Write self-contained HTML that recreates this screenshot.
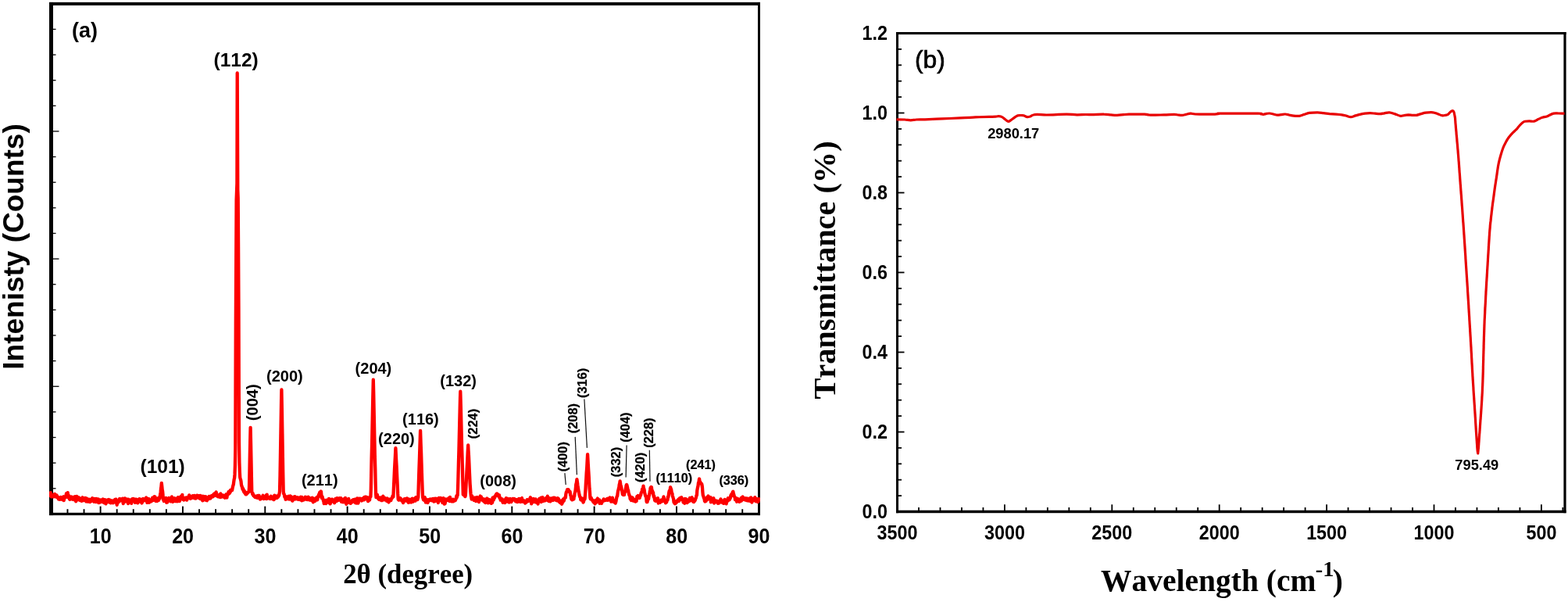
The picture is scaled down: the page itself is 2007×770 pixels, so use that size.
<!DOCTYPE html>
<html lang="en"><head><meta charset="utf-8"><title>XRD pattern and FTIR spectrum</title>
<style>
html,body{margin:0;padding:0;background:#fff;}
body{width:2007px;height:770px;overflow:hidden;}
svg{display:block;}
text{font-family:"Liberation Sans",sans-serif;fill:#000;font-kerning:none;}
.b{font-weight:bold;}
.ser{font-family:"Liberation Serif",serif;font-weight:bold;}
.tk{stroke:#000;stroke-width:1.3;fill:none;}
.tk2{stroke:#000;stroke-width:1.8;fill:none;}
</style></head><body>
<svg width="2007" height="770" viewBox="0 0 2007 770" role="img" aria-label="(a) XRD pattern, intensity versus 2 theta; (b) FTIR spectrum, transmittance versus wavelength">
<rect x="0" y="0" width="2007" height="770" fill="#fff"/>
<g class="tk">
<line x1="67.5" y1="624.77" x2="71.5" y2="624.77"/>
<line x1="67.5" y1="592.14" x2="71.5" y2="592.14"/>
<line x1="67.5" y1="559.51" x2="71.5" y2="559.51"/>
<line x1="67.5" y1="526.88" x2="71.5" y2="526.88"/>
<line x1="67.5" y1="494.25" x2="75.5" y2="494.25"/>
<line x1="67.5" y1="461.62" x2="71.5" y2="461.62"/>
<line x1="67.5" y1="428.99" x2="71.5" y2="428.99"/>
<line x1="67.5" y1="396.36" x2="71.5" y2="396.36"/>
<line x1="67.5" y1="363.73" x2="71.5" y2="363.73"/>
<line x1="67.5" y1="331.10" x2="75.5" y2="331.10"/>
<line x1="67.5" y1="298.47" x2="71.5" y2="298.47"/>
<line x1="67.5" y1="265.84" x2="71.5" y2="265.84"/>
<line x1="67.5" y1="233.21" x2="71.5" y2="233.21"/>
<line x1="67.5" y1="200.58" x2="71.5" y2="200.58"/>
<line x1="67.5" y1="167.95" x2="75.5" y2="167.95"/>
<line x1="67.5" y1="135.32" x2="71.5" y2="135.32"/>
<line x1="67.5" y1="102.69" x2="71.5" y2="102.69"/>
<line x1="67.5" y1="70.06" x2="71.5" y2="70.06"/>
<line x1="67.5" y1="37.43" x2="71.5" y2="37.43"/>
</g><g class="tk" style="stroke-width:1.9">
<line x1="86.46" y1="656.3" x2="86.46" y2="651.20"/>
<line x1="107.53" y1="656.3" x2="107.53" y2="651.20"/>
<line x1="128.60" y1="656.3" x2="128.60" y2="647.60"/>
<line x1="149.67" y1="656.3" x2="149.67" y2="651.20"/>
<line x1="170.74" y1="656.3" x2="170.74" y2="651.20"/>
<line x1="191.80" y1="656.3" x2="191.80" y2="651.20"/>
<line x1="212.87" y1="656.3" x2="212.87" y2="651.20"/>
<line x1="233.94" y1="656.3" x2="233.94" y2="647.60"/>
<line x1="255.01" y1="656.3" x2="255.01" y2="651.20"/>
<line x1="276.08" y1="656.3" x2="276.08" y2="651.20"/>
<line x1="297.14" y1="656.3" x2="297.14" y2="651.20"/>
<line x1="318.21" y1="656.3" x2="318.21" y2="651.20"/>
<line x1="339.28" y1="656.3" x2="339.28" y2="647.60"/>
<line x1="360.35" y1="656.3" x2="360.35" y2="651.20"/>
<line x1="381.42" y1="656.3" x2="381.42" y2="651.20"/>
<line x1="402.48" y1="656.3" x2="402.48" y2="651.20"/>
<line x1="423.55" y1="656.3" x2="423.55" y2="651.20"/>
<line x1="444.62" y1="656.3" x2="444.62" y2="647.60"/>
<line x1="465.69" y1="656.3" x2="465.69" y2="651.20"/>
<line x1="486.76" y1="656.3" x2="486.76" y2="651.20"/>
<line x1="507.82" y1="656.3" x2="507.82" y2="651.20"/>
<line x1="528.89" y1="656.3" x2="528.89" y2="651.20"/>
<line x1="549.96" y1="656.3" x2="549.96" y2="647.60"/>
<line x1="571.03" y1="656.3" x2="571.03" y2="651.20"/>
<line x1="592.10" y1="656.3" x2="592.10" y2="651.20"/>
<line x1="613.16" y1="656.3" x2="613.16" y2="651.20"/>
<line x1="634.23" y1="656.3" x2="634.23" y2="651.20"/>
<line x1="655.30" y1="656.3" x2="655.30" y2="647.60"/>
<line x1="676.37" y1="656.3" x2="676.37" y2="651.20"/>
<line x1="697.44" y1="656.3" x2="697.44" y2="651.20"/>
<line x1="718.50" y1="656.3" x2="718.50" y2="651.20"/>
<line x1="739.57" y1="656.3" x2="739.57" y2="651.20"/>
<line x1="760.64" y1="656.3" x2="760.64" y2="647.60"/>
<line x1="781.71" y1="656.3" x2="781.71" y2="651.20"/>
<line x1="802.78" y1="656.3" x2="802.78" y2="651.20"/>
<line x1="823.84" y1="656.3" x2="823.84" y2="651.20"/>
<line x1="844.91" y1="656.3" x2="844.91" y2="651.20"/>
<line x1="865.98" y1="656.3" x2="865.98" y2="647.60"/>
<line x1="887.05" y1="656.3" x2="887.05" y2="651.20"/>
<line x1="908.12" y1="656.3" x2="908.12" y2="651.20"/>
<line x1="929.18" y1="656.3" x2="929.18" y2="651.20"/>
<line x1="950.25" y1="656.3" x2="950.25" y2="651.20"/>
</g>
<rect x="63.0" y="2.9" width="5.0" height="656.2" fill="#000"/>
<rect x="970.0" y="2.9" width="3.0" height="656.2" fill="#000"/>
<rect x="63.0" y="2.9" width="910.0" height="4.0" fill="#000"/>
<rect x="63.0" y="655.8" width="910.0" height="3.300000000000068" fill="#000"/>
<clipPath id="ca"><rect x="63.1" y="0" width="909.8" height="660"/></clipPath>
<path clip-path="url(#ca)" d="M63.2,632.7l0.4,-0.2l0.4,-0.4l0.5,2l0.4,-3.9l0.4,3.1l0.4,2l0.4,-1.8l0.5,1.8l0.4,-2l0.4,1.6l0.4,-0.7l0.4,1.1l0.5,0.1l0.4,-0.8l0.4,-2.1l0.4,-0.6l0.4,0.1l0.5,2.5l0.4,-1.1l0.4,2.3l0.4,-0.5l0.4,-1.8l0.5,0.7l0.4,1.6l0.4,0.9l0.4,-0.4l0.4,1l0.5,1.4l0.4,-2.2l0.4,1.8l0.4,-0.4l0.4,1l0.5,-0.7l0.4,-1.4l0.4,-0.8l0.4,2.7l0.4,-0.2l0.5,-0.2l0.4,-0.2l0.4,-0.5l0.4,1.9l0.4,-1.6l0.5,-2.5l0.4,4.8l0.4,-2.1l0.4,-2.7l0.4,0.6l0.5,0.4l0.4,0l0.4,-1.9l0.4,-1l0.4,-2.3l0.5,1.5l0.5,-0.8l0.3,1.7l0.4,-3.4l0.4,5.9l0.5,-2.7l0.4,1.2l0.4,2.4l0.4,1.3l0.4,0.5l0.5,-3.2l0.4,3.1l0.4,-0.8l0.4,-2.5l0.4,0l0.5,1l0.4,1.2l0.4,-0.1l0.4,1.3l0.4,-1.8l0.5,1.5l0.4,-1l0.4,-1.8l0.4,2.1l0.4,1.7l0.5,-4.2l0.4,4.4l0.4,-1.5l0.4,3.2l0.4,-2.7l0.5,-3.6l0.4,0.8l0.4,-0.3l0.4,3.8l0.4,-1.8l0.5,1.5l0.4,-1.7l0.4,-0.1l0.4,-0.7l0.4,3l0.5,0.5l0.4,-1.4l0.4,-0.7l0.4,1.3l0.4,1.4l0.5,0.2l0.4,-1l0.4,-1.8l0.4,-1.7l0.4,2.3l0.5,1.6l0.4,-0.7l0.4,-0.8l0.4,0.6l0.4,0.5l0.5,0.2l0.4,-3.2l0.4,2.5l0.4,-0.2l0.4,2.4l0.5,-2.6l0.4,-1.4l0.4,3.7l0.4,-0.9l0.4,1.2l0.5,-3l0.4,3l0.4,-1.5l0.4,0.5l0.4,-0.2l0.5,-1.6l0.4,3.3l0.4,-1.6l0.4,-0.1l0.4,-0.6l0.5,1.3l0.4,-2l0.4,-1l0.4,-0.8l0.4,2.1l0.5,0.6l0.4,0.9l0.4,-1l0.4,1.9l0.4,-3l0.5,-0.8l0.4,2.1l0.4,-1.1l0.4,0.7l0.4,2.5l0.5,-4.3l0.4,2.7l0.4,-1.6l0.4,1.9l0.4,-0.6l0.5,-1.9l0.4,0l0.4,4.8l0.4,-1.1l0.4,-1.6l0.5,2.4l0.4,-3l0.4,2.3l0.4,-2.7l0.4,0.7l0.5,-0.2l0.4,-0.1l0.4,2.1l0.4,-1l0.4,-1.8l0.5,-0.6l0.4,2.1l0.4,0.6l0.4,1.8l0.4,0.1l0.5,-3.9l0.4,0.5l0.4,2.3l0.4,-2.6l0.4,5l0.5,-2.1l0.4,-0.8l0.4,-0.9l0.4,0l0.4,0.8l0.5,0.5l0.4,-2.7l0.4,0.3l0.4,-0.5l0.4,1.5l0.5,2.1l0.4,0l0.4,-3l0.4,1.9l0.4,1.8l0.5,-1.8l0.4,-0.1l0.4,1.2l0.4,-2.3l0.4,1.8l0.5,0.8l0.4,0.3l0.4,-0.4l0.4,-2.1l0.4,0.7l0.5,-1.4l0.4,2.3l0.4,-3.5l0.4,0.5l0.4,1.1l0.5,-1.8l0.4,2.3l0.4,2.5l0.4,2.5l0.4,-4.8l0.5,2.5l0.4,-1.7l0.4,-1.4l0.4,0.5l0.4,0.7l0.5,-0.5l0.4,-3.4l0.4,2.9l0.4,-1.2l0.4,-0.8l0.5,0.9l0.4,0.3l0.4,-1.4l0.4,0.1l0.4,1.7l0.5,-2.7l0.4,3.3l0.4,3.1l0.4,-2.2l0.4,0.3l0.5,-2.2l0.4,0l0.4,-2.5l0.4,4.2l0.4,-2.6l0.5,2.3l0.4,-0.8l0.4,-0.4l0.4,-1.6l0.4,1l0.5,-0.6l0.4,2.1l0.4,3l0.4,-5.3l0.4,1.3l0.5,0.7l0.4,-1.2l0.4,0.7l0.4,0.6l0.4,1.1l0.5,-0.4l0.4,-2.3l0.4,4.7l0.4,-4.5l0.4,-0.9l0.5,0.5l0.4,1.5l0.4,-2.5l0.4,2.3l0.4,-2.3l0.5,2.9l0.4,-0.5l0.4,0l0.4,2.4l0.4,-4.1l0.5,1.3l0.4,1.3l0.4,-0.5l0.4,-2l0.4,3.7l0.5,0.6l0.4,0.2l0.4,-2.1l0.4,0.3l0.4,-1.1l0.5,0.5l0.4,-2.7l0.4,3.2l0.4,-1.7l0.4,0.3l0.5,2.1l0.4,-1.3l0.4,-2l0.4,2.1l0.4,2.6l0.5,-1.8l0.4,-0.4l0.4,-2.3l0.4,-1.1l0.4,2.6l0.5,-0.6l0.4,-1.3l0.4,1.5l0.4,-0.9l0.4,-0.1l0.5,-0.8l0.4,-1.3l0.4,-0.4l0.4,3.6l0.4,-1.1l0.5,3.8l0.4,-3.6l0.4,1.9l0.4,-2.9l0.4,-0.4l0.5,0.3l0.4,4.6l0.4,-3.6l0.4,1.5l0.4,1l0.5,-2.2l0.4,0l0.4,2l0.4,-2.7l0.4,1.1l0.5,0.4l0.4,-3.6l0.4,3.1l0.4,-1.6l0.4,0.8l0.5,0.8l0.4,-1.3l0.4,-3.4l0.4,4.5l0.4,-4.2l0.5,3l0.4,2.5l0.4,-1l0.4,-1.7l0.4,-0.6l0.5,0.7l0.4,2.6l0.4,-0.8l0.4,-2.8l0.4,2.5l0.5,0l0.4,-1.3l0.4,-2.3l0.4,1.5l0.4,-1.7l0.5,-4l0.4,-2.5l0.4,-4.4l0.4,-2.5l0.4,-4.7l0.5,4.3l0.4,4.3l0.4,1.8l0.4,4l0.4,6.9l0.5,0.1l0.4,1.7l0.4,-1.7l0.4,1.1l0.4,-0.1l0.5,-1.6l0.4,1.2l0.4,-3.1l0.4,4.5l0.4,1.4l0.5,-3l0.4,3l0.4,-3.8l0.4,0.6l0.4,0.1l0.5,-0.5l0.4,-2.2l0.4,2.1l0.4,-0.6l0.4,0.5l0.5,0l0.4,2.5l0.4,-1.5l0.4,-0.9l0.4,1l0.5,-4.5l0.4,4.1l0.4,0.9l0.4,1.4l0.4,-2.3l0.5,1.5l0.4,-2.2l0.4,1.9l0.4,-3.7l0.4,1.9l0.5,0.8l0.4,1.2l0.4,-3.1l0.4,1.7l0.4,1.4l0.5,-0.9l0.4,-2.6l0.4,3.8l0.4,-2.9l0.4,-2.3l0.5,0.7l0.4,2.7l0.4,-2.1l0.4,-0.1l0.4,3.8l0.5,-4.9l0.4,1.8l0.4,0.6l0.4,-3.6l0.4,2.7l0.5,0l0.4,-1.4l0.4,-3.5l0.4,4.8l0.4,1.1l0.5,-0.4l0.4,-1.5l0.4,2.7l0.4,-1.6l0.4,-0.4l0.5,0.2l0.4,-0.3l0.4,-0.6l0.4,1l0.4,-0.5l0.5,-0.8l0.4,3.1l0.4,-1.5l0.4,-0.1l0.4,-1.5l0.5,0.4l0.4,0l0.4,-1.9l0.4,-1.6l0.4,2.6l0.5,-1.1l0.4,-0.3l0.4,3.2l0.4,-1.2l0.4,-0.5l0.5,1l0.4,-0.2l0.4,-0.7l0.4,-0.1l0.4,-2l0.5,1.6l0.4,-0.7l0.4,0.8l0.4,1.1l0.4,-2.9l0.5,3.4l0.4,-2.2l0.4,2.3l0.4,0.1l0.4,-0.7l0.5,-0.4l0.4,-0.7l0.4,-2.1l0.4,2.6l0.4,-0.6l0.5,0.2l0.4,0l0.4,-1.8l0.4,2.4l0.4,0.8l0.5,-0.2l0.4,-2.3l0.4,-0.8l0.4,4.2l0.4,-2.1l0.5,1.4l0.4,1l0.4,-1l0.4,-2.9l0.4,5.8l0.5,-4.2l0.4,1.4l0.4,-2.6l0.4,2.7l0.4,-1.9l0.5,3l0.4,0.6l0.4,-3.7l0.4,-0.6l0.4,0.2l0.5,0.7l0.4,4l0.4,0.2l0.4,-1.3l0.4,-2.4l0.5,0l0.4,0.6l0.4,1.1l0.4,-1.5l0.4,-1.8l0.5,2.1l0.4,-1.3l0.4,1.8l0.4,0l0.4,-1.9l0.5,-0.4l0.4,-0.9l0.4,0.2l0.4,-0.4l0.4,1.4l0.5,-0.1l0.4,-2.4l0.4,-0.5l0.4,0.4l0.4,-1.3l0.5,2.5l0.4,-2.9l0.4,0.5l0.4,0.5l0.4,-0.1l0.5,-2.8l0.4,1.4l0.4,1.1l0.4,1l0.4,2.1l0.5,-1.6l0.4,2l0.4,-1.3l0.4,1.2l0.4,-0.6l0.5,-0.5l0.4,-1.4l0.4,2.1l0.4,1.2l0.4,-4.5l0.5,3.7l0.4,0.4l0.4,-1.2l0.4,0.9l0.4,-0.8l0.5,-0.9l0.4,1.3l0.4,-1.3l0.4,2.1l0.4,0.1l0.5,-1.2l0.4,0.5l0.4,1.6l0.4,-2.9l0.4,-0.5l0.5,0.4l0.4,-1.4l0.4,3.8l0.4,0.4l0.4,-2.4l0.5,-1.9l0.4,0l0.4,-0.1l0.4,-3l0.4,1.9l0.5,0.3l0.4,-2.1l0.4,1.2l0.4,-3.2l0.4,1.7l0.5,-2l0.4,0.8l0.4,-1.6l0.4,0.7l0.4,0.2l0.5,-2.7l0.4,-1.7l0.4,-1.9l0.4,-0.8l0.4,-3.4l0.5,-3.5l0.4,-1.5l0.4,-4.6l0.4,-11.2l0.4,-21.5l0.5,-161.3l0.4,-78.6l0.4,-78.5l0.4,-10.6l0.4,-10.8l0.3,-141l0.6,149.1l0.4,10.8l0.4,62.3l0.4,78.4l0.5,171.4l0.4,26.2l0.4,11.5l0.4,7.3l0.4,1.7l0.5,1.6l0.4,1.9l0.4,4l0.4,1.9l0.4,0.8l0.5,2.2l0.4,1.4l0.4,-1.1l0.4,0.9l0.4,2.5l0.5,0.9l0.4,-1.4l0.4,2.4l0.4,0.9l0.4,0l0.5,1.2l0.4,-2.4l0.4,2.5l0.4,-0.3l0.4,-0.5l0.5,-1l0.4,0.1l0.4,-0.5l0.4,-0.1l0.4,-0.9l0.5,-0.3l0.4,-5.2l0.4,-18.8l0.4,-21.6l0.4,-19.2l0.4,-17.1l0.5,22.3l0.4,20.2l0.4,20.5l0.4,19.5l0.5,0.5l0.4,2.1l0.4,-1l0.4,1.4l0.4,1.6l0.5,-0.3l0.4,0.4l0.4,1.1l0.4,-0.2l0.4,1l0.5,-0.2l0.4,-0.1l0.4,-0.2l0.4,0.7l0.4,-1.7l0.5,1.4l0.4,0.9l0.4,-0.3l0.4,-2.6l0.4,1.5l0.5,-0.2l0.4,-1.3l0.4,2.1l0.4,1l0.4,1.6l0.5,-0.1l0.4,-2.2l0.4,0.2l0.4,0.1l0.4,-0.5l0.5,1.2l0.4,-1.8l0.4,-0.7l0.4,-1l0.4,3l0.5,1.2l0.4,-1.8l0.4,-0.9l0.4,1.8l0.4,-0.6l0.5,1l0.4,-2.5l0.4,1.5l0.4,-3.2l0.4,4.8l0.5,-5.5l0.4,2.7l0.4,0.1l0.4,0.5l0.4,0.8l0.5,0.5l0.4,-0.5l0.4,-0.5l0.4,1.6l0.4,-1l0.5,0.2l0.4,0.9l0.4,-3.2l0.4,1.3l0.4,0.6l0.5,0.5l0.4,0.8l0.4,-2.1l0.4,1.3l0.4,0l0.5,-0.6l0.4,2.6l0.4,-0.5l0.4,-4.9l0.4,2.8l0.5,-0.8l0.4,-1.3l0.4,1.3l0.4,1.4l0.4,-2.5l0.5,0.7l0.4,1.6l0.4,-0.6l0.4,-1.1l0.4,0.6l0.5,-2.4l0.4,0.9l0.4,-0.8l0.4,-2.4l0.4,-2.4l0.5,-20.8l0.4,-23.2l0.4,-23.9l0.4,-24.6l0.4,-24.3l0.3,-13.4l0.6,32.4l0.4,23.9l0.4,24.6l0.4,23.4l0.5,25.4l0.4,3.2l0.4,0.2l0.4,1.4l0.4,2.5l0.5,0.7l0.4,-1.7l0.4,4.3l0.4,-2.2l0.4,1.8l0.5,-2.4l0.4,0.1l0.4,-0.3l0.4,2.4l0.4,-3l0.5,0.8l0.4,-1.3l0.4,0.5l0.4,3.3l0.4,-2l0.5,1.1l0.4,-3.2l0.4,2l0.4,-1.2l0.4,-0.1l0.5,1.6l0.4,3.1l0.4,-0.4l0.4,1.2l0.4,-1.9l0.5,0l0.4,-1.6l0.4,0.8l0.4,-2.6l0.4,3.4l0.5,-3.6l0.4,2.2l0.4,-1.6l0.4,1l0.4,1.5l0.5,-0.4l0.4,0l0.4,0.1l0.4,-0.9l0.4,-0.7l0.5,2.5l0.4,-1l0.4,-0.2l0.4,-0.2l0.4,1.5l0.5,-2.5l0.4,2.8l0.4,-2.8l0.4,-0.7l0.4,2.9l0.5,-2.6l0.4,4.4l0.4,-4.4l0.4,2.5l0.4,-1.5l0.5,1.5l0.4,0.4l0.4,0.6l0.4,-0.4l0.4,-0.7l0.5,0l0.4,-1.6l0.4,-1l0.4,2.5l0.4,-2.4l0.5,2.4l0.4,0.5l0.4,-0.8l0.4,1l0.4,-0.8l0.5,0.8l0.4,-3.4l0.4,3l0.4,-0.6l0.4,-0.6l0.5,2.1l0.4,-1.5l0.4,-0.7l0.4,0.7l0.4,1.6l0.5,0.3l0.4,-0.1l0.4,0l0.4,-3.1l0.4,4.1l0.5,-0.9l0.4,2.4l0.4,-2.7l0.4,0.2l0.4,-2l0.5,2.7l0.4,-1.5l0.4,1.8l0.4,-0.7l0.4,-1.5l0.5,0l0.4,-2.2l0.4,1l0.4,-0.2l0.4,2.1l0.5,-3.7l0.4,-0.8l0.4,0.5l0.4,-2.6l0.4,0l0.5,-1.8l0.4,-1.1l0.5,1.6l0.3,-1.5l0.4,-0.2l0.5,-1.1l0.4,4.6l0.4,3.7l0.4,-1.7l0.4,0.1l0.5,2.6l0.4,0.4l0.4,2.2l0.4,-0.1l0.4,3.6l0.5,-2.9l0.4,-0.7l0.4,2.2l0.4,-0.2l0.4,-2.1l0.5,3.7l0.4,-3.4l0.4,-0.9l0.4,0.3l0.4,1l0.5,0.5l0.4,-1.3l0.4,2.5l0.4,-0.2l0.4,-4.7l0.5,5.7l0.4,0.1l0.4,-2.5l0.4,3.3l0.4,-2.2l0.5,0.3l0.4,-2.3l0.4,-1.4l0.4,2.1l0.4,-2.2l0.5,2.2l0.4,-0.2l0.4,0.9l0.4,0.3l0.4,-1.4l0.5,1.9l0.4,0.8l0.4,-1.8l0.4,-1l0.4,-2.5l0.5,1.6l0.4,0.6l0.4,0.9l0.4,-0.1l0.4,-3.8l0.5,1.8l0.4,-1.1l0.4,1.8l0.4,0l0.4,-0.8l0.5,0.9l0.4,-2.6l0.4,1.3l0.4,-0.1l0.4,0.8l0.5,-1.9l0.4,0.7l0.4,4l0.4,-0.4l0.4,-0.1l0.5,-2.8l0.4,0.7l0.4,3l0.4,-1l0.4,-0.8l0.5,-2.3l0.4,2.9l0.4,1.1l0.4,-1.5l0.4,-3.8l0.5,5.4l0.4,-0.6l0.4,3.1l0.4,-2.7l0.4,0.2l0.5,-1.8l0.4,2.5l0.4,-4.2l0.4,3.8l0.4,-4.8l0.5,3.8l0.4,0.6l0.4,-0.1l0.4,1.3l0.4,-2l0.5,2.5l0.4,-0.7l0.4,0l0.4,-0.9l0.4,-1.4l0.5,-1l0.4,0.8l0.4,1.2l0.4,-2.8l0.4,0.3l0.5,0.1l0.4,1.2l0.4,0.2l0.4,-2.3l0.4,2.3l0.5,2.4l0.4,-4.3l0.4,3.6l0.4,-1.1l0.4,2.2l0.5,-6.2l0.4,3.1l0.4,0.5l0.4,2.5l0.4,-1.4l0.5,-4.6l0.4,2.5l0.4,-1.2l0.4,0.3l0.4,-1.5l0.5,1.6l0.4,-1.3l0.4,0l0.4,1.8l0.4,0.7l0.5,-1.8l0.4,1.1l0.4,-0.2l0.4,-1.2l0.4,-1.4l0.5,2.4l0.4,-0.1l0.4,-3.3l0.4,2.6l0.4,-0.6l0.5,-2.3l0.4,2.4l0.4,-2.4l0.4,1.1l0.4,1.1l0.5,-1.8l0.4,0.8l0.4,2.6l0.4,1.6l0.4,-2.8l0.5,2l0.4,-3.8l0.4,3l0.4,-0.1l0.4,-3.6l0.5,-0.1l0.4,-0.4l0.4,-9.2l0.4,-19.9l0.4,-20.3l0.5,-18.7l0.4,-20.3l0.4,-20.2l0.4,-19.7l0.5,-21.3l0.4,15.7l0.4,20.1l0.4,19.6l0.4,20.6l0.4,20.5l0.5,17.5l0.4,20.3l0.4,12.1l0.4,4.1l0.4,-1l0.5,0.5l0.4,-3l0.4,2.1l0.4,1.1l0.4,1.4l0.5,1.1l0.4,0.2l0.4,0.4l0.4,-2.3l0.4,1.3l0.5,-1.3l0.4,-0.2l0.4,1.5l0.4,-0.8l0.4,2.9l0.5,-2.8l0.4,2.8l0.4,-0.4l0.4,-1.5l0.4,-3.5l0.5,1.6l0.4,0.7l0.4,-0.4l0.4,2.7l0.4,-0.4l0.5,-1.9l0.4,1.3l0.4,0.1l0.4,0.2l0.4,-0.2l0.5,2.5l0.4,-2.2l0.4,-1.2l0.4,1.2l0.4,0l0.5,1.5l0.4,2.3l0.4,-3.7l0.4,1l0.4,-1.2l0.5,0.9l0.4,0.7l0.4,-0.3l0.4,0.1l0.4,-1.8l0.5,-0.7l0.4,-0.2l0.4,-0.9l0.4,-1.9l0.4,1.2l0.5,-0.2l0.4,-8.7l0.4,-8.6l0.4,-8.9l0.4,-9.2l0.5,-8.9l0.4,-7.4l0.5,-10.7l0.3,6l0.4,8.5l0.5,8.6l0.4,9.1l0.4,8.5l0.4,8.2l0.4,9.4l0.5,7.5l0.4,-0.6l0.4,1.3l0.4,-0.5l0.4,-0.6l0.5,-0.1l0.4,-1.3l0.4,1.2l0.4,-0.6l0.4,0.9l0.5,1.6l0.4,0.3l0.4,-1l0.4,1.7l0.4,-0.7l0.5,2.7l0.4,-2.7l0.4,-1.1l0.4,1l0.4,-2.1l0.5,1.1l0.4,-1.2l0.4,2.5l0.4,-1.4l0.4,0.4l0.5,-2.1l0.4,2.6l0.4,-2.9l0.4,2.4l0.4,1.6l0.5,0.4l0.4,1.1l0.4,-2.8l0.4,-1.5l0.4,4l0.5,-1.8l0.4,0.7l0.4,-2.5l0.4,3l0.4,-0.4l0.5,0.9l0.4,-1.6l0.4,0l0.4,-3.2l0.4,0.6l0.5,3.5l0.4,-0.4l0.4,-1l0.4,-1.4l0.4,-0.9l0.5,2l0.4,-2.4l0.4,3.1l0.4,-1.7l0.4,-2.9l0.5,0.3l0.4,0.8l0.4,-0.1l0.4,-0.5l0.4,2.6l0.5,-2.1l0.4,-1.3l0.4,-12.8l0.4,-13.3l0.4,-11.8l0.5,-13.7l0.4,-12.4l0.4,-12.3l0.3,-8.7l0.5,15.5l0.5,12.5l0.4,13l0.4,13.1l0.4,11.3l0.4,11.3l0.5,8.9l0.4,1.2l0.4,1.5l0.4,-1.4l0.4,2.2l0.5,-1.8l0.4,-2l0.4,2.7l0.4,-0.9l0.4,4.7l0.5,-2.7l0.4,-1.2l0.4,1.9l0.4,2l0.4,-1.7l0.5,2.1l0.4,-3.4l0.4,-0.3l0.4,0.7l0.4,0.7l0.5,-1.7l0.4,0.1l0.4,0.7l0.4,-1.3l0.4,1.2l0.5,-0.9l0.4,-0.1l0.4,0.9l0.4,0.7l0.4,-1.9l0.5,1.1l0.4,-1.6l0.4,0.4l0.4,0.8l0.4,2.5l0.5,-0.4l0.4,-2.9l0.4,-0.6l0.4,1.4l0.4,1.7l0.5,-3.1l0.4,2.8l0.4,-1.6l0.4,0.4l0.4,0.2l0.5,-0.8l0.4,-0.4l0.4,4.7l0.4,-3.6l0.4,-2.6l0.5,0.7l0.4,2.4l0.4,-2.6l0.4,1.5l0.4,-1.9l0.5,3.4l0.4,-2.3l0.4,-0.5l0.4,1.7l0.4,0l0.5,3.9l0.4,-1.8l0.4,0.7l0.4,-4.9l0.4,2.2l0.5,2.5l0.4,2.9l0.4,-3.1l0.4,2.6l0.4,-5.8l0.5,2.6l0.4,-0.3l0.4,-0.6l0.4,-0.9l0.4,-0.6l0.5,-0.4l0.4,1.5l0.4,-0.1l0.4,-0.8l0.4,-1.6l0.5,0.2l0.4,2.3l0.4,1.3l0.4,-5.1l0.4,4.7l0.5,-2.3l0.4,1.1l0.4,1.1l0.4,0.8l0.4,-2.1l0.5,2.2l0.4,-2l0.4,-0.7l0.4,2.7l0.4,-0.6l0.5,-0.9l0.4,0.3l0.4,-0.9l0.4,0.3l0.4,0.6l0.5,-1.4l0.4,-0.4l0.4,-2.3l0.4,-1.9l0.4,1.9l0.5,-3l0.4,0.3l0.4,-10.4l0.4,-14l0.4,-15.7l0.5,-17.2l0.4,-16.7l0.4,-16.8l0.4,-16.5l0.4,-16.4l0.3,-9l0.6,21.3l0.4,16.2l0.4,17.4l0.4,15.7l0.5,16.3l0.4,14.3l0.4,16.7l0.4,14.1l0.4,-0.3l0.5,0.9l0.4,-0.7l0.3,0.5l0.5,-0.1l0.4,2.2l0.5,-1.4l0.4,-5.2l0.4,-9.5l0.4,-7.3l0.4,-7.7l0.5,-9.6l0.4,-7.7l0.4,-8.7l0.5,-8.7l0.3,6.3l0.5,7.8l0.4,8.6l0.4,9.5l0.4,8.3l0.4,8.7l0.5,6.8l0.4,5.8l0.4,3.3l0.4,1.9l0.4,2.2l0.5,-4.2l0.4,2.6l0.4,0l0.4,-0.5l0.4,0.4l0.5,1.5l0.4,1.4l0.4,-0.7l0.4,-1.9l0.4,2.5l0.5,-3.2l0.4,0.6l0.4,3.9l0.4,-3.3l0.4,1.2l0.5,-0.7l0.4,-2.2l0.4,4.8l0.4,-2.6l0.4,2.6l0.5,-1.8l0.4,3.1l0.4,-2.2l0.4,-1.8l0.4,-1.9l0.5,-1.7l0.4,3.1l0.4,0.1l0.4,-2.3l0.4,1.6l0.5,2.5l0.4,-1.1l0.4,1l0.4,0.3l0.4,-1.7l0.5,3l0.4,-0.3l0.4,-2.1l0.4,3.4l0.4,-1.9l0.5,-1.5l0.4,4.4l0.4,-3.4l0.4,0.7l0.4,0.1l0.5,-0.6l0.4,-2.3l0.4,1.5l0.4,2.2l0.4,2.2l0.5,-2.1l0.4,-1.4l0.4,-0.8l0.4,2.4l0.4,-2.2l0.5,0.2l0.4,2.9l0.4,0.8l0.4,-0.6l0.4,1.3l0.5,-2.8l0.4,0.5l0.4,1.3l0.4,-6.2l0.4,1.7l0.5,0.6l0.4,0.2l0.4,-3.6l0.4,1.7l0.4,-0.6l0.5,-1.5l0.4,-0.5l0.4,-1.3l0.4,0.1l0.4,-1.5l0.5,-0.5l0.4,-0.1l0.4,0.5l0.4,0.2l0.4,0.4l0.5,2l0.4,-0.4l0.4,-0.1l0.4,-0.8l0.4,3.5l0.5,0.8l0.4,-0.9l0.4,3l0.4,-1l0.4,-0.4l0.5,0.4l0.4,1.7l0.4,-1.9l0.4,2.5l0.4,1.8l0.5,-0.2l0.4,-0.8l0.4,-0.8l0.4,1.1l0.4,-0.2l0.5,1.2l0.4,-2l0.4,-2.5l0.4,1l0.4,-2.3l0.5,2.9l0.4,-1.2l0.4,2.7l0.4,-2.3l0.4,-1.4l0.5,1.8l0.4,-1l0.4,2.9l0.4,0.9l0.4,-3.2l0.5,-0.8l0.4,-0.5l0.4,1.5l0.4,2.3l0.4,0.3l0.5,-0.3l0.4,-1.6l0.4,0.2l0.4,-1.3l0.4,-1.2l0.5,1.6l0.4,-0.9l0.4,0.1l0.4,0.1l0.4,-0.9l0.5,1.4l0.4,-0.7l0.4,1.9l0.4,0.8l0.4,-2.1l0.5,2.4l0.4,-1.4l0.4,-0.9l0.4,2.7l0.4,-0.3l0.5,-0.9l0.4,0.4l0.4,0.4l0.4,-3.7l0.4,3.5l0.5,-2.6l0.4,-0.6l0.4,3.1l0.4,0.7l0.4,-0.7l0.5,-1.2l0.4,-2.7l0.4,-0.3l0.4,4.4l0.4,0l0.5,-0.5l0.4,-0.5l0.4,1.1l0.4,-1.3l0.4,1.2l0.5,1.1l0.4,-0.2l0.4,1.2l0.4,-1.1l0.4,-1.9l0.5,2.1l0.4,-2.3l0.4,-0.1l0.4,-1l0.4,0.7l0.5,-0.4l0.4,1.4l0.4,-0.9l0.4,0.8l0.4,-0.6l0.5,-1.2l0.4,1.3l0.4,-3.2l0.4,-0.9l0.4,4.5l0.5,-2.1l0.4,5.7l0.4,-5.3l0.4,3l0.4,-0.6l0.5,-2.2l0.4,2.6l0.4,-4.1l0.4,4.2l0.4,-1.7l0.5,-0.2l0.4,-0.8l0.4,2l0.4,0.1l0.4,-2.9l0.5,4l0.4,-2.4l0.4,0.3l0.4,-0.5l0.4,0.5l0.5,0.6l0.4,3.5l0.4,-4.5l0.4,-0.7l0.4,0l0.5,-1.3l0.4,2.3l0.4,-0.2l0.4,-2l0.4,0.7l0.5,-2.1l0.4,5.4l0.4,-1.3l0.4,-0.3l0.4,-2.2l0.5,-2.2l0.4,3.8l0.4,1l0.4,-1.6l0.4,-0.5l0.5,1.1l0.4,-0.6l0.4,0.7l0.4,0.3l0.4,-0.8l0.5,-2.3l0.4,2.1l0.4,-2.7l0.4,1.8l0.4,-1.3l0.5,-2.4l0.4,5.4l0.4,-3.4l0.4,2.5l0.4,1.8l0.5,-2.6l0.4,1.1l0.4,-2.2l0.4,2.7l0.4,1.4l0.5,-2.8l0.4,0.9l0.4,-2l0.4,-0.1l0.4,0.6l0.5,0.4l0.4,-0.8l0.4,2.4l0.4,-3.3l0.4,1.3l0.5,0.7l0.4,-1.5l0.4,-0.4l0.4,1.5l0.4,-1.1l0.5,2.4l0.4,0.2l0.4,-2.1l0.4,0.1l0.3,2.5l0.6,-1.5l0.4,-1.7l0.4,1l0.4,1.7l0.4,-1.7l0.5,3.2l0.4,-0.2l0.4,1.2l0.4,-1l0.4,1.7l0.5,-2.2l0.4,2.2l0.4,1l0.4,-1.1l0.4,1.8l0.5,-1.7l0.4,-3.3l0.4,2.5l0.4,-3.7l0.4,1.6l0.5,0.5l0.4,-1.8l0.4,-1.4l0.4,-0.2l0.4,-1.3l0.5,0.5l0.4,-4.3l0.4,-2l0.4,-1.1l0.4,0l0.6,-2.9l0.3,1.1l0.4,0.4l0.4,-1l0.4,-0.4l0.5,2l0.4,0.2l0.4,1.1l0.4,-0.9l0.3,0.1l0.6,4.7l0.4,0.1l0.4,3.2l0.4,1.8l0.4,-0.4l0.5,1.2l0.4,-0.1l0.4,-0.7l0.4,-2.2l0.4,2.3l0.5,-0.1l0.4,-3.6l0.4,-0.2l0.4,-3.7l0.4,-1.4l0.5,-2.1l0.4,-3.8l0.4,-4.5l0.4,-0.8l0.4,-2.9l0.3,-2.4l0.6,4l0.4,3.2l0.4,2.7l0.4,2.7l0.5,3.3l0.4,1.7l0.4,2.3l0.4,1.6l0.4,1l0.5,0.2l0.4,3.2l0.4,0.4l0.4,0.2l0.4,0l0.5,-1.4l0.4,-0.5l0.4,0l0.4,2.6l0.4,2.3l0.5,-1l0.4,-2.5l0.4,-0.3l0.4,0l0.4,-0.6l0.5,-6.5l0.4,-5.7l0.4,-8.1l0.4,-5.8l0.4,-7.8l0.5,-6.2l0.4,-8l0.5,-8.9l0.3,5.4l0.4,7.4l0.5,8.3l0.4,6.3l0.4,8.2l0.4,7.7l0.4,4l0.5,8.1l0.4,1.6l0.4,-0.3l0.4,-1.3l0.4,0.9l0.5,1.7l0.4,0l0.4,1.2l0.4,-0.2l0.4,1.5l0.5,0l0.4,1l0.4,-2.2l0.4,1.5l0.4,0.7l0.5,1.5l0.4,-2.8l0.4,1.5l0.4,-3.3l0.4,2.9l0.5,-0.8l0.4,-2l0.4,-1.2l0.4,-0.9l0.4,2.2l0.5,0.8l0.4,-0.5l0.4,1.6l0.4,-2.4l0.4,4.6l0.5,-3.4l0.4,1.8l0.4,0.5l0.4,-1.2l0.4,0l0.5,2.2l0.4,-1.8l0.4,-0.6l0.4,-0.2l0.4,-0.6l0.5,-0.7l0.4,-1.5l0.4,0.6l0.4,0.6l0.4,0.6l0.5,-0.5l0.4,-0.2l0.4,-0.2l0.4,0.6l0.4,0l0.5,-1.4l0.4,1l0.4,-1.4l0.4,-0.3l0.4,2l0.5,-0.5l0.4,-0.1l0.4,-1.2l0.4,0.5l0.4,-1.2l0.5,-0.9l0.4,3.2l0.4,0.7l0.4,0.1l0.4,1.2l0.5,-2.7l0.4,2.1l0.4,-1.6l0.4,-2.7l0.4,1.8l0.5,3.1l0.4,-1.6l0.4,0.6l0.4,1.5l0.4,-0.3l0.5,-1.5l0.4,3l0.4,0.3l0.4,-1.1l0.4,-1.6l0.5,-2.9l0.4,-2l0.4,-1.2l0.4,-0.4l0.4,-3.4l0.5,-3.2l0.4,-1.2l0.4,-2l0.4,-1.1l0.4,-3.7l0.5,-1.6l0.4,-2.8l0.4,2.4l0.4,2.4l0.4,1.5l0.5,1.6l0.4,2.9l0.4,1.1l0.4,2.9l0.4,2.3l0.5,-0.7l0.4,0.4l0.4,0.8l0.4,-0.1l0.4,0l0.5,-3.4l0.4,-0.2l0.4,-0.4l0.4,-3.4l0.4,-1.5l0.5,-3l0.5,-1.1l0.3,0.7l0.4,1.7l0.4,1.7l0.5,3.5l0.4,-0.4l0.4,2.6l0.4,1.5l0.4,1.8l0.5,0.8l0.4,0.6l0.4,3.7l0.4,-1.2l0.4,1.3l0.5,1.8l0.4,-0.8l0.4,-2.7l0.4,0.7l0.4,-0.6l0.5,0.4l0.4,3.5l0.4,-2.1l0.4,0.6l0.4,1.3l0.5,-1.2l0.4,2.1l0.4,-1.4l0.4,1.8l0.4,-1.1l0.5,0.2l0.4,0.2l0.4,-3.8l0.4,-2.1l0.4,0.4l0.5,-0.1l0.4,-1.3l0.4,0.9l0.4,-0.2l0.4,-0.2l0.5,2.6l0.4,-0.4l0.4,-2.2l0.4,-0.6l0.4,-0.2l0.5,-2.7l0.4,-1.1l0.4,-0.7l0.4,-0.1l0.4,-3.5l0.5,0.4l0.4,-0.7l0.5,-3.7l0.3,3.6l0.4,-0.3l0.5,2.1l0.4,2.9l0.4,1.6l0.4,1.9l0.4,1.2l0.5,-0.2l0.4,2.5l0.4,4.7l0.4,0.6l0.4,0l0.5,-1.8l0.4,-3.1l0.4,0.9l0.4,0.1l0.4,-3.6l0.5,-1l0.4,-2.2l0.4,-3.1l0.4,-1.8l0.4,-2.6l0.5,0.5l0.3,-1.7l0.5,0.5l0.4,3.3l0.4,0.8l0.5,0.9l0.4,2.7l0.4,-1.3l0.4,3.8l0.4,2l0.5,-0.7l0.4,2.7l0.4,2.5l0.4,0.4l0.4,-0.9l0.5,1.2l0.4,-0.3l0.4,-2.3l0.4,1.8l0.4,-0.3l0.5,-0.7l0.4,-1.8l0.4,1.4l0.4,5l0.4,-2.9l0.5,0.8l0.4,0.9l0.4,-1l0.4,1.6l0.4,-0.8l0.5,-0.2l0.4,-1.1l0.4,-1.3l0.4,0.2l0.4,-0.2l0.5,1.7l0.4,-0.8l0.4,-1.1l0.4,-1.2l0.4,-2.6l0.5,2.3l0.4,2.8l0.4,0.2l0.4,0.6l0.4,-1.1l0.5,3l0.4,-3.5l0.4,2.5l0.4,0l0.4,-2.3l0.5,-0.8l0.4,0.3l0.4,-4.1l0.4,0.7l0.4,-2.2l0.5,-3.6l0.4,-2.3l0.4,0.5l0.4,-1.3l0.4,-1.4l0.3,-2.6l0.6,1.9l0.4,0.7l0.4,2.6l0.4,2.4l0.5,0.3l0.4,3l0.4,1.3l0.4,1.3l0.4,1l0.5,4.5l0.4,0.7l0.4,-0.7l0.4,2l0.4,-0.5l0.5,0.3l0.4,-2.6l0.4,0.8l0.4,0.5l0.4,-2l0.5,1.3l0.4,-0.9l0.4,0.1l0.4,-0.7l0.4,-1.7l0.5,0.4l0.4,1.6l0.4,-2.3l0.4,-1.3l0.4,1.4l0.5,-0.9l0.4,-0.8l0.5,0.6l0.3,-1.4l0.4,0.7l0.5,0.9l0.4,1.7l0.4,-0.4l0.4,1.8l0.4,1.6l0.5,-1.7l0.4,2.5l0.4,0.1l0.4,0.4l0.4,-5.7l0.5,4.1l0.4,-3.4l0.4,-0.5l0.4,1.5l0.4,-1l0.5,3.1l0.4,1.2l0.4,-0.7l0.4,-1.1l0.4,-1.4l0.5,-0.5l0.4,-0.1l0.4,2l0.4,-2l0.4,-2.4l0.5,1.3l0.4,2.1l0.4,-0.5l0.4,-2l0.4,-0.9l0.5,-0.4l0.4,1.1l0.4,2.2l0.4,-1.4l0.4,3.4l0.5,-2.6l0.4,2.9l0.4,-1.1l0.4,0.2l0.4,-0.4l0.5,-1.1l0.4,-1.9l0.4,-0.2l0.4,-1.6l0.4,-1.9l0.5,-0.6l0.4,-6.2l0.4,-2l0.4,-2.1l0.4,-1.5l0.5,-4.3l0.4,0.4l0.4,-3.7l0.3,-1.5l0.5,3.4l0.5,1.2l0.4,-0.3l0.4,1.1l0.4,0.5l0.4,0.5l0.5,0.2l0.4,1.6l0.4,3.4l0.4,5.5l0.4,3.9l0.5,1.2l0.4,1.3l0.4,1.5l0.4,-0.2l0.4,3.5l0.5,0.6l0.4,-0.7l0.4,-1.5l0.4,1.8l0.4,-2l0.5,0.4l0.4,-1.9l0.4,-1.7l0.4,3.1l0.5,-3.4l0.4,-1.1l0.4,2.6l0.4,-0.5l0.4,1.4l0.4,-0.3l0.5,-0.9l0.4,-0.3l0.4,-0.2l0.4,6.2l0.4,-4l0.5,2.7l0.4,-1.9l0.4,2.1l0.4,0.3l0.4,-2.5l0.5,-1.6l0.4,-0.3l0.4,1.5l0.4,4.8l0.4,-1.9l0.5,-0.9l0.4,1.3l0.4,-1.7l0.4,0.6l0.4,0.1l0.5,1l0.4,-0.7l0.4,-0.6l0.4,1l0.4,2l0.5,-1.9l0.4,-0.2l0.4,2.1l0.4,-2.5l0.4,0.2l0.5,0.9l0.4,-2.1l0.4,2.2l0.4,-4.1l0.4,2l0.5,0.9l0.4,-0.6l0.4,1.9l0.4,-0.8l0.4,1.3l0.5,0l0.4,-2.5l0.4,3.4l0.4,-0.9l0.4,-0.7l0.5,-3.5l0.4,1.4l0.4,0.4l0.4,2.2l0.4,0.6l0.5,0.9l0.4,-3.4l0.4,-0.6l0.4,-1l0.4,1.5l0.5,-3.7l0.4,1.3l0.4,0.3l0.4,0.9l0.4,-0.2l0.5,-0.7l0.4,-1.6l0.4,0.2l0.4,-2.5l0.4,-1.3l0.5,-0.9l0.4,1.7l0.4,-1l0.4,-1.8l0.4,-1.5l0.5,-1.1l0.2,-0.2l0.6,2.9l0.4,1l0.4,2.2l0.5,0.4l0.4,0.8l0.4,3.2l0.4,-1.8l0.4,0.3l0.5,-0.4l0.4,2.5l0.4,1.9l0.4,-2.8l0.4,-0.9l0.5,0l0.4,0.5l0.4,0.4l0.4,1.1l0.4,-0.1l0.5,2l0.4,-1.9l0.4,-0.9l0.4,-0.3l0.4,2.2l0.5,-4l0.4,3.5l0.4,-1.1l0.4,-2.6l0.4,-0.2l0.5,-1.1l0.4,3.3l0.4,-1.5l0.4,0.4l0.4,-0.2l0.5,0.7l0.4,1l0.4,-1.4l0.4,-0.4l0.4,0.4l0.5,1.9l0.4,-0.1l0.4,-0.8l0.6,-1.4l0.2,3l0.5,-0.3l0.4,-1.9l0.4,1.6l0.4,-0.2l0.4,1l0.5,-2.2l0.4,1.3l0.4,-2.6l0.4,1.8l0.4,2.2l0.5,-4.6l0.4,1.9l0.4,1l0.4,3.1l0.4,-4.8l0.5,1.2l0.4,0l0.4,0.9l0.4,0.2l0.4,-0.2l0.5,-1.5l0.4,1l0.4,-3.1l0.4,4.1l0.4,-0.9l0.5,1.8l0.4,-3.6l0.4,0.3l0.4,1.5l0.4,0.2l0.5,0.9l0.4,1.5l0.4,-0.4l0.4,-1.7l0.4,-1.7l0.5,0.1l0.4,2.5l0.4,0" fill="none" stroke="#fe0000" stroke-width="4.3" stroke-linejoin="round" stroke-linecap="butt"/>
<text class="b" transform="translate(128.8,694.9) scale(0.89,1)" font-size="28.2" text-anchor="middle">10</text>
<text class="b" transform="translate(234.1,694.9) scale(0.89,1)" font-size="28.2" text-anchor="middle">20</text>
<text class="b" transform="translate(339.5,694.9) scale(0.89,1)" font-size="28.2" text-anchor="middle">30</text>
<text class="b" transform="translate(444.8,694.9) scale(0.89,1)" font-size="28.2" text-anchor="middle">40</text>
<text class="b" transform="translate(550.2,694.9) scale(0.89,1)" font-size="28.2" text-anchor="middle">50</text>
<text class="b" transform="translate(655.5,694.9) scale(0.89,1)" font-size="28.2" text-anchor="middle">60</text>
<text class="b" transform="translate(760.8,694.9) scale(0.89,1)" font-size="28.2" text-anchor="middle">70</text>
<text class="b" transform="translate(866.2,694.9) scale(0.89,1)" font-size="28.2" text-anchor="middle">80</text>
<text class="b" transform="translate(971.5,694.9) scale(0.89,1)" font-size="28.2" text-anchor="middle">90</text>
<text class="ser" x="522.2" y="746.4" font-size="34.8" text-anchor="middle">2θ (degree)</text>
<text class="b" transform="translate(30,315.5) rotate(-90)" font-size="37" text-anchor="middle">Intenisty (Counts)</text>
<text class="b" x="92" y="47.6" font-size="27" >(a)</text>
<text class="b" x="208.15" y="604.90" font-size="24.5" text-anchor="middle">(101)</text>
<text class="b" x="302.10" y="84.90" font-size="24.5" text-anchor="middle">(112)</text>
<text class="b" x="364.35" y="487.50" font-size="20" text-anchor="middle">(200)</text>
<text class="b" x="409.25" y="621.20" font-size="20" text-anchor="middle">(211)</text>
<text class="b" x="477.95" y="478.40" font-size="20" text-anchor="middle">(204)</text>
<text class="b" x="507.45" y="567.60" font-size="20" text-anchor="middle">(220)</text>
<text class="b" x="538.45" y="543.20" font-size="20" text-anchor="middle">(116)</text>
<text class="b" x="586.65" y="493.90" font-size="20" text-anchor="middle">(132)</text>
<text class="b" x="637.65" y="622.10" font-size="20" text-anchor="middle">(008)</text>
<text class="b" x="862.80" y="616.90" font-size="16.2" text-anchor="middle" style="stroke:#000;stroke-width:0.2">(1110)</text>
<text class="b" x="896.95" y="599.60" font-size="16.2" text-anchor="middle" style="stroke:#000;stroke-width:0.2">(241)</text>
<text class="b" x="939.35" y="619.50" font-size="16.2" text-anchor="middle" style="stroke:#000;stroke-width:0.2">(336)</text>
<text class="b" transform="translate(329.50,514.80) rotate(-90)" font-size="20" text-anchor="middle">(004)</text>
<text class="b" transform="translate(610.60,542.05) rotate(-90)" font-size="16.4" text-anchor="middle" style="stroke:#000;stroke-width:0.2">(224)</text>
<text class="b" transform="translate(726.10,584.20) rotate(-90)" font-size="16.4" text-anchor="middle" style="stroke:#000;stroke-width:0.2">(400)</text>
<text class="b" transform="translate(738.80,535.15) rotate(-90)" font-size="16.4" text-anchor="middle" style="stroke:#000;stroke-width:0.2">(208)</text>
<text class="b" transform="translate(751.20,489.85) rotate(-90)" font-size="16.4" text-anchor="middle" style="stroke:#000;stroke-width:0.2">(316)</text>
<text class="b" transform="translate(794.10,591.00) rotate(-90)" font-size="16.4" text-anchor="middle" style="stroke:#000;stroke-width:0.2">(332)</text>
<text class="b" transform="translate(805.90,546.60) rotate(-90)" font-size="16.4" text-anchor="middle" style="stroke:#000;stroke-width:0.2">(404)</text>
<text class="b" transform="translate(824.70,597.90) rotate(-90)" font-size="16.4" text-anchor="middle" style="stroke:#000;stroke-width:0.2">(420)</text>
<text class="b" transform="translate(835.50,553.60) rotate(-90)" font-size="16.4" text-anchor="middle" style="stroke:#000;stroke-width:0.2">(228)</text>
<line x1="722.9" y1="605.1" x2="724.2" y2="620.0" stroke="#111" stroke-width="1.2"/>
<line x1="736.2" y1="558.9" x2="738.4" y2="607.3" stroke="#111" stroke-width="1.2"/>
<line x1="747.9" y1="510.5" x2="751.4" y2="572.9" stroke="#111" stroke-width="1.2"/>
<line x1="802.1" y1="569.6" x2="801.1" y2="610.6" stroke="#111" stroke-width="1.2"/>
<line x1="831.3" y1="575.8" x2="832.0" y2="615.8" stroke="#111" stroke-width="1.2"/>
<g class="tk2">
<line x1="1149.5" y1="634.10" x2="1154.0" y2="634.10"/>
<line x1="1149.5" y1="613.70" x2="1154.0" y2="613.70"/>
<line x1="1149.5" y1="593.30" x2="1154.0" y2="593.30"/>
<line x1="1149.5" y1="572.90" x2="1154.0" y2="572.90"/>
<line x1="1149.5" y1="552.50" x2="1157.5" y2="552.50"/>
<line x1="1149.5" y1="532.10" x2="1154.0" y2="532.10"/>
<line x1="1149.5" y1="511.70" x2="1154.0" y2="511.70"/>
<line x1="1149.5" y1="491.30" x2="1154.0" y2="491.30"/>
<line x1="1149.5" y1="470.90" x2="1154.0" y2="470.90"/>
<line x1="1149.5" y1="450.50" x2="1157.5" y2="450.50"/>
<line x1="1149.5" y1="430.10" x2="1154.0" y2="430.10"/>
<line x1="1149.5" y1="409.70" x2="1154.0" y2="409.70"/>
<line x1="1149.5" y1="389.30" x2="1154.0" y2="389.30"/>
<line x1="1149.5" y1="368.90" x2="1154.0" y2="368.90"/>
<line x1="1149.5" y1="348.50" x2="1157.5" y2="348.50"/>
<line x1="1149.5" y1="328.10" x2="1154.0" y2="328.10"/>
<line x1="1149.5" y1="307.70" x2="1154.0" y2="307.70"/>
<line x1="1149.5" y1="287.30" x2="1154.0" y2="287.30"/>
<line x1="1149.5" y1="266.90" x2="1154.0" y2="266.90"/>
<line x1="1149.5" y1="246.50" x2="1157.5" y2="246.50"/>
<line x1="1149.5" y1="226.10" x2="1154.0" y2="226.10"/>
<line x1="1149.5" y1="205.70" x2="1154.0" y2="205.70"/>
<line x1="1149.5" y1="185.30" x2="1154.0" y2="185.30"/>
<line x1="1149.5" y1="164.90" x2="1154.0" y2="164.90"/>
<line x1="1149.5" y1="144.50" x2="1157.5" y2="144.50"/>
<line x1="1149.5" y1="124.10" x2="1154.0" y2="124.10"/>
<line x1="1149.5" y1="103.70" x2="1154.0" y2="103.70"/>
<line x1="1149.5" y1="83.30" x2="1154.0" y2="83.30"/>
<line x1="1149.5" y1="62.90" x2="1154.0" y2="62.90"/>
<line x1="1175.98" y1="653.2" x2="1175.98" y2="649.00"/>
<line x1="1203.46" y1="653.2" x2="1203.46" y2="649.00"/>
<line x1="1230.94" y1="653.2" x2="1230.94" y2="649.00"/>
<line x1="1258.42" y1="653.2" x2="1258.42" y2="649.00"/>
<line x1="1285.90" y1="653.2" x2="1285.90" y2="645.30"/>
<line x1="1313.38" y1="653.2" x2="1313.38" y2="649.00"/>
<line x1="1340.86" y1="653.2" x2="1340.86" y2="649.00"/>
<line x1="1368.34" y1="653.2" x2="1368.34" y2="649.00"/>
<line x1="1395.82" y1="653.2" x2="1395.82" y2="649.00"/>
<line x1="1423.30" y1="653.2" x2="1423.30" y2="645.30"/>
<line x1="1450.78" y1="653.2" x2="1450.78" y2="649.00"/>
<line x1="1478.26" y1="653.2" x2="1478.26" y2="649.00"/>
<line x1="1505.74" y1="653.2" x2="1505.74" y2="649.00"/>
<line x1="1533.22" y1="653.2" x2="1533.22" y2="649.00"/>
<line x1="1560.70" y1="653.2" x2="1560.70" y2="645.30"/>
<line x1="1588.18" y1="653.2" x2="1588.18" y2="649.00"/>
<line x1="1615.66" y1="653.2" x2="1615.66" y2="649.00"/>
<line x1="1643.14" y1="653.2" x2="1643.14" y2="649.00"/>
<line x1="1670.62" y1="653.2" x2="1670.62" y2="649.00"/>
<line x1="1698.10" y1="653.2" x2="1698.10" y2="645.30"/>
<line x1="1725.58" y1="653.2" x2="1725.58" y2="649.00"/>
<line x1="1753.06" y1="653.2" x2="1753.06" y2="649.00"/>
<line x1="1780.54" y1="653.2" x2="1780.54" y2="649.00"/>
<line x1="1808.02" y1="653.2" x2="1808.02" y2="649.00"/>
<line x1="1835.50" y1="653.2" x2="1835.50" y2="645.30"/>
<line x1="1862.98" y1="653.2" x2="1862.98" y2="649.00"/>
<line x1="1890.46" y1="653.2" x2="1890.46" y2="649.00"/>
<line x1="1917.94" y1="653.2" x2="1917.94" y2="649.00"/>
<line x1="1945.42" y1="653.2" x2="1945.42" y2="649.00"/>
<line x1="1972.90" y1="653.2" x2="1972.90" y2="645.30"/>
<line x1="2000.38" y1="653.2" x2="2000.38" y2="649.00"/>
</g>
<rect x="1147.0" y="41.0" width="3.0" height="615.2" fill="#000"/>
<rect x="2001.4" y="41.0" width="3.199999999999818" height="615.2" fill="#000"/>
<rect x="1147.0" y="41.0" width="857.5999999999999" height="3.1000000000000014" fill="#000"/>
<rect x="1147.0" y="652.7" width="857.5999999999999" height="3.5" fill="#000"/>
<path d="M1147.6,152.8C1149.3,152.8 1155.0,152.8 1158.0,153.0C1161.0,153.2 1163.2,153.8 1165.7,153.8C1168.2,153.8 1170.0,153.2 1173.0,153.0C1176.0,152.8 1178.4,153.0 1183.9,152.8C1189.4,152.6 1198.4,152.2 1205.9,151.9C1213.5,151.6 1222.1,151.2 1229.2,150.9C1236.3,150.6 1242.5,150.2 1248.6,149.9C1254.7,149.7 1261.7,149.5 1266.0,149.4C1270.3,149.3 1272.4,149.3 1274.5,149.2C1276.6,149.1 1277.3,148.6 1278.4,148.6C1279.5,148.6 1280.1,148.7 1281.0,149.0C1281.9,149.3 1282.6,149.6 1283.6,150.3C1284.6,151.0 1285.8,152.2 1287.0,153.0C1288.2,153.8 1289.5,155.3 1290.7,155.4C1291.9,155.5 1292.8,154.3 1294.0,153.6C1295.2,152.8 1296.6,151.7 1297.8,150.9C1299.0,150.1 1300.0,149.1 1301.0,148.6C1302.0,148.1 1302.3,147.8 1303.7,147.7C1305.1,147.5 1308.1,147.5 1309.5,147.7C1310.9,147.8 1311.1,148.3 1312.0,148.6C1312.9,148.9 1313.6,149.5 1314.7,149.6C1315.8,149.7 1317.5,149.3 1318.6,149.0C1319.6,148.7 1320.1,148.0 1321.0,147.6C1321.9,147.2 1322.7,147.0 1323.8,146.8C1324.9,146.6 1325.0,146.4 1327.6,146.4C1330.2,146.4 1335.2,147.0 1339.3,147.0C1343.4,147.0 1347.7,146.8 1352.0,146.6C1356.3,146.4 1360.8,146.1 1365.2,146.1C1369.6,146.1 1374.1,146.7 1378.2,146.8C1382.3,146.9 1386.4,146.5 1390.0,146.5C1393.6,146.5 1396.2,146.7 1400.0,146.6C1403.8,146.5 1409.3,146.1 1413.0,146.2C1416.7,146.2 1419.2,146.7 1422.0,146.9C1424.8,147.1 1427.3,147.4 1430.0,147.3C1432.7,147.2 1435.5,146.8 1438.0,146.6C1440.5,146.4 1440.5,146.3 1445.0,146.2C1449.5,146.1 1460.8,146.1 1465.0,146.2C1469.2,146.3 1468.3,146.7 1470.0,146.9C1471.7,147.1 1471.7,147.2 1475.0,147.2C1478.3,147.2 1485.3,147.0 1490.0,146.9C1494.7,146.8 1500.0,146.4 1503.0,146.4C1506.0,146.4 1506.3,146.8 1508.0,147.0C1509.7,147.2 1511.3,147.5 1513.0,147.4C1514.7,147.3 1516.2,146.8 1518.0,146.4C1519.8,146.0 1522.0,145.3 1524.0,145.2C1526.0,145.1 1526.5,145.8 1530.0,146.0C1533.5,146.2 1540.8,146.2 1545.0,146.2C1549.2,146.2 1552.5,146.2 1555.0,146.1C1557.5,146.0 1558.7,145.6 1560.0,145.4C1561.3,145.2 1554.7,145.2 1563.0,145.1C1571.3,145.0 1601.5,145.0 1610.0,145.1C1618.5,145.2 1612.8,145.6 1614.0,145.8C1615.2,146.0 1615.8,146.4 1617.0,146.3C1618.2,146.2 1619.7,145.6 1621.0,145.4C1622.3,145.2 1623.5,144.9 1625.0,145.0C1626.5,145.1 1628.3,145.6 1630.0,146.0C1631.7,146.4 1633.3,147.1 1635.0,147.2C1636.7,147.3 1638.3,146.8 1640.0,146.6C1641.7,146.4 1643.3,145.9 1645.0,146.0C1646.7,146.1 1648.2,146.6 1650.0,147.0C1651.8,147.4 1653.8,148.0 1656.0,148.2C1658.2,148.4 1660.8,148.6 1663.0,148.3C1665.2,148.0 1666.8,147.1 1669.0,146.4C1671.2,145.8 1673.0,144.8 1675.9,144.4C1678.8,144.0 1683.3,143.8 1686.3,143.8C1689.3,143.8 1691.4,144.3 1694.0,144.6C1696.6,144.9 1699.1,145.4 1701.8,145.7C1704.5,145.9 1707.4,145.9 1710.0,146.1C1712.6,146.3 1715.2,146.5 1717.4,146.8C1719.6,147.1 1721.1,147.5 1723.0,148.0C1724.9,148.5 1727.0,149.6 1729.0,149.6C1731.0,149.6 1733.0,148.4 1735.0,147.9C1737.0,147.4 1738.7,146.9 1740.7,146.4C1742.7,145.9 1744.8,145.5 1747.0,145.2C1749.2,144.9 1751.4,144.7 1753.6,144.7C1755.8,144.7 1757.8,145.0 1760.0,145.2C1762.2,145.4 1764.6,145.8 1766.6,145.7C1768.6,145.6 1770.1,145.1 1772.0,144.8C1773.9,144.5 1776.0,143.7 1778.2,143.8C1780.4,143.9 1782.6,144.8 1785.0,145.6C1787.4,146.3 1790.5,148.0 1792.5,148.3C1794.5,148.6 1795.3,147.8 1797.0,147.6C1798.7,147.3 1801.0,146.9 1802.8,146.8C1804.6,146.8 1806.3,147.2 1808.0,147.3C1809.7,147.4 1811.4,147.6 1813.2,147.3C1815.0,147.0 1817.0,146.1 1819.0,145.6C1821.0,145.1 1822.4,144.5 1824.9,144.2C1827.4,143.9 1831.4,143.6 1833.9,143.8C1836.4,144.0 1838.0,144.9 1840.0,145.6C1842.0,146.2 1843.9,147.4 1845.6,147.7C1847.3,148.0 1848.7,147.6 1850.0,147.4C1851.3,147.2 1852.4,147.0 1853.4,146.4C1854.4,145.8 1855.2,144.3 1856.0,143.6C1856.8,142.9 1857.6,142.3 1858.2,142.0C1858.8,141.7 1859.1,141.5 1859.6,141.7C1860.1,141.9 1860.5,141.9 1861.0,143.4C1861.5,144.9 1862.2,149.1 1862.5,150.8C1862.7,152.5 1862.6,152.8 1862.7,153.8C1862.8,154.8 1862.9,155.8 1862.9,156.8C1863.0,157.8 1863.1,158.8 1863.2,159.8C1863.3,160.8 1863.4,161.8 1863.4,162.8C1863.5,163.8 1863.6,164.8 1863.7,165.8C1863.8,166.8 1863.9,167.8 1864.0,168.8C1864.1,169.8 1864.1,170.8 1864.2,171.8C1864.3,172.8 1864.4,173.8 1864.5,174.8C1864.6,175.8 1864.7,176.8 1864.8,177.8C1864.9,178.8 1864.9,179.8 1865.0,180.8C1865.1,181.8 1865.2,182.8 1865.3,183.8C1865.4,184.8 1865.5,185.8 1865.6,186.8C1865.7,187.8 1865.7,188.8 1865.8,189.8C1865.9,190.8 1866.0,191.8 1866.1,192.8C1866.2,193.8 1866.2,194.8 1866.3,195.8C1866.4,196.8 1866.5,197.8 1866.6,198.8C1866.7,199.8 1866.7,200.8 1866.8,201.8C1866.9,202.8 1867.0,203.8 1867.0,204.8C1867.1,205.8 1867.2,206.8 1867.3,207.8C1867.3,208.8 1867.4,209.8 1867.5,210.8C1867.6,211.8 1867.6,212.8 1867.7,213.8C1867.8,214.8 1867.9,215.8 1867.9,216.8C1868.0,217.8 1868.1,218.8 1868.1,219.8C1868.2,220.8 1868.3,221.8 1868.4,222.8C1868.4,223.8 1868.5,224.8 1868.6,225.8C1868.6,226.8 1868.7,227.8 1868.8,228.8C1868.9,229.8 1868.9,230.8 1869.0,231.8C1869.1,232.8 1869.2,233.8 1869.2,234.8C1869.3,235.8 1869.4,236.8 1869.5,237.8C1869.5,238.8 1869.6,239.8 1869.7,240.8C1869.8,241.8 1869.8,242.8 1869.9,243.8C1870.0,244.8 1870.1,245.8 1870.1,246.8C1870.2,247.8 1870.3,248.8 1870.4,249.8C1870.4,250.8 1870.5,251.8 1870.6,252.8C1870.7,253.8 1870.7,254.8 1870.8,255.8C1870.9,256.8 1871.0,257.8 1871.0,258.8C1871.1,259.8 1871.2,260.8 1871.2,261.8C1871.3,262.8 1871.4,263.8 1871.5,264.8C1871.5,265.8 1871.6,266.8 1871.7,267.8C1871.8,268.8 1871.8,269.8 1871.9,270.8C1872.0,271.8 1872.0,272.8 1872.1,273.8C1872.2,274.8 1872.3,275.8 1872.3,276.8C1872.4,277.8 1872.5,278.8 1872.5,279.8C1872.6,280.8 1872.7,281.8 1872.7,282.8C1872.8,283.8 1872.9,284.8 1873.0,285.8C1873.0,286.8 1873.1,287.8 1873.2,288.8C1873.2,289.8 1873.3,290.8 1873.4,291.8C1873.4,292.8 1873.5,293.8 1873.6,294.8C1873.6,295.8 1873.7,296.8 1873.8,297.8C1873.8,298.8 1873.9,299.8 1874.0,300.8C1874.1,301.8 1874.1,302.8 1874.2,303.8C1874.2,304.8 1874.3,305.8 1874.4,306.8C1874.4,307.8 1874.5,308.8 1874.6,309.8C1874.6,310.8 1874.7,311.8 1874.8,312.8C1874.8,313.8 1874.9,314.8 1875.0,315.8C1875.0,316.8 1875.1,317.8 1875.2,318.8C1875.2,319.8 1875.3,320.8 1875.4,321.8C1875.4,322.8 1875.5,323.8 1875.6,324.8C1875.6,325.8 1875.7,326.8 1875.8,327.8C1875.8,328.8 1875.9,329.8 1875.9,330.8C1876.0,331.8 1876.1,332.8 1876.1,333.8C1876.2,334.8 1876.3,335.8 1876.3,336.8C1876.4,337.8 1876.5,338.8 1876.5,339.8C1876.6,340.8 1876.7,341.8 1876.7,342.8C1876.8,343.8 1876.9,344.8 1876.9,345.8C1877.0,346.8 1877.1,347.8 1877.1,348.8C1877.2,349.8 1877.2,350.8 1877.3,351.8C1877.4,352.8 1877.4,353.8 1877.5,354.8C1877.6,355.8 1877.6,356.8 1877.7,357.8C1877.8,358.8 1877.8,359.8 1877.9,360.8C1878.0,361.8 1878.0,362.8 1878.1,363.8C1878.1,364.8 1878.2,365.8 1878.3,366.8C1878.3,367.8 1878.4,368.8 1878.5,369.8C1878.5,370.8 1878.6,371.8 1878.6,372.8C1878.7,373.8 1878.8,374.8 1878.8,375.8C1878.9,376.8 1879.0,377.8 1879.0,378.8C1879.1,379.8 1879.1,380.8 1879.2,381.8C1879.3,382.8 1879.3,383.8 1879.4,384.8C1879.5,385.8 1879.5,386.8 1879.6,387.8C1879.6,388.8 1879.7,389.8 1879.8,390.8C1879.8,391.8 1879.9,392.8 1879.9,393.8C1880.0,394.8 1880.1,395.8 1880.1,396.8C1880.2,397.8 1880.2,398.8 1880.3,399.8C1880.4,400.8 1880.4,401.8 1880.5,402.8C1880.5,403.8 1880.6,404.8 1880.7,405.8C1880.7,406.8 1880.8,407.8 1880.8,408.8C1880.9,409.8 1881.0,410.8 1881.0,411.8C1881.1,412.8 1881.1,413.8 1881.2,414.8C1881.3,415.8 1881.3,416.8 1881.4,417.8C1881.4,418.8 1881.5,419.8 1881.6,420.8C1881.6,421.8 1881.7,422.8 1881.7,423.8C1881.8,424.8 1881.9,425.8 1881.9,426.8C1882.0,427.8 1882.0,428.8 1882.1,429.8C1882.2,430.8 1882.2,431.8 1882.3,432.8C1882.3,433.8 1882.4,434.8 1882.4,435.8C1882.5,436.8 1882.6,437.8 1882.6,438.8C1882.7,439.8 1882.7,440.8 1882.8,441.8C1882.8,442.8 1882.9,443.8 1883.0,444.8C1883.0,445.8 1883.1,446.8 1883.1,447.8C1883.2,448.8 1883.2,449.8 1883.3,450.8C1883.3,451.8 1883.4,452.8 1883.5,453.8C1883.5,454.8 1883.6,455.8 1883.6,456.8C1883.7,457.8 1883.7,458.8 1883.8,459.8C1883.8,460.8 1883.9,461.8 1883.9,462.8C1884.0,463.8 1884.0,464.8 1884.1,465.8C1884.2,466.8 1884.2,467.8 1884.3,468.8C1884.3,469.8 1884.4,470.8 1884.4,471.8C1884.5,472.8 1884.5,473.8 1884.6,474.8C1884.6,475.8 1884.7,476.8 1884.8,477.8C1884.8,478.8 1884.9,479.8 1884.9,480.8C1885.0,481.8 1885.1,482.8 1885.1,483.8C1885.2,484.8 1885.2,485.8 1885.3,486.8C1885.4,487.8 1885.4,488.8 1885.5,489.8C1885.5,490.8 1885.6,491.8 1885.7,492.8C1885.7,493.8 1885.8,494.8 1885.9,495.8C1885.9,496.8 1886.0,497.8 1886.0,498.8C1886.1,499.8 1886.2,500.8 1886.2,501.8C1886.3,502.8 1886.4,503.8 1886.4,504.8C1886.5,505.8 1886.6,506.8 1886.6,507.8C1886.7,508.8 1886.8,509.8 1886.8,510.8C1886.9,511.8 1887.0,512.8 1887.0,513.8C1887.1,514.8 1887.2,515.8 1887.2,516.8C1887.3,517.8 1887.4,518.8 1887.4,519.8C1887.5,520.8 1887.5,521.8 1887.6,522.8C1887.7,523.8 1887.7,524.8 1887.8,525.8C1887.9,526.8 1887.9,527.8 1888.0,528.8C1888.1,529.8 1888.1,530.8 1888.2,531.8C1888.2,532.8 1888.3,533.8 1888.4,534.8C1888.4,535.8 1888.5,536.8 1888.6,537.8C1888.6,538.8 1888.7,539.8 1888.7,540.8C1888.8,541.8 1888.9,542.8 1888.9,543.8C1889.0,544.8 1889.1,545.8 1889.1,546.8C1889.2,547.8 1889.2,548.8 1889.3,549.8C1889.4,550.8 1889.4,551.8 1889.5,552.8C1889.6,553.8 1889.6,554.8 1889.7,555.8C1889.7,556.8 1889.8,557.8 1889.9,558.8C1889.9,559.8 1890.0,560.8 1890.1,561.8C1890.1,562.8 1890.2,563.8 1890.3,564.8C1890.3,565.8 1890.4,566.8 1890.5,567.8C1890.5,568.8 1890.6,569.8 1890.7,570.8C1890.7,571.8 1890.7,572.3 1890.9,573.8C1891.0,575.3 1891.5,579.0 1891.7,580.0L1891.7,580.0C1891.8,579.0 1892.2,575.5 1892.3,574.0C1892.5,572.5 1892.5,572.0 1892.6,571.0C1892.6,570.0 1892.7,569.0 1892.8,568.0C1892.8,567.0 1892.9,566.0 1893.0,565.0C1893.1,564.0 1893.1,563.0 1893.2,562.0C1893.3,561.0 1893.3,560.0 1893.4,559.0C1893.5,558.0 1893.6,557.0 1893.6,556.0C1893.7,555.0 1893.8,554.0 1893.9,553.0C1893.9,552.0 1894.0,551.0 1894.1,550.0C1894.1,549.0 1894.2,548.0 1894.3,547.0C1894.4,546.0 1894.4,545.0 1894.5,544.0C1894.6,543.0 1894.7,542.0 1894.7,541.0C1894.8,540.0 1894.9,539.0 1894.9,538.0C1895.0,537.0 1895.1,536.0 1895.2,535.0C1895.2,534.0 1895.3,533.0 1895.4,532.0C1895.4,531.0 1895.5,530.0 1895.6,529.0C1895.7,528.0 1895.7,527.0 1895.8,526.0C1895.9,525.0 1895.9,524.0 1896.0,523.0C1896.1,522.0 1896.1,521.0 1896.2,520.0C1896.3,519.0 1896.3,518.0 1896.4,517.0C1896.5,516.0 1896.5,515.0 1896.6,514.0C1896.7,513.0 1896.7,512.0 1896.8,511.0C1896.8,510.0 1896.9,509.0 1896.9,508.0C1897.0,507.0 1897.1,506.0 1897.1,505.0C1897.2,504.0 1897.2,503.0 1897.3,502.0C1897.3,501.0 1897.4,500.0 1897.4,499.0C1897.4,498.0 1897.5,497.0 1897.5,496.0C1897.6,495.0 1897.6,494.0 1897.7,493.0C1897.7,492.0 1897.7,491.0 1897.8,490.0C1897.8,489.0 1897.9,488.0 1897.9,487.0C1897.9,486.0 1898.0,485.0 1898.0,484.0C1898.0,483.0 1898.1,482.0 1898.1,481.0C1898.1,480.0 1898.2,479.0 1898.2,478.0C1898.2,477.0 1898.3,476.0 1898.3,475.0C1898.3,474.0 1898.3,473.0 1898.4,472.0C1898.4,471.0 1898.4,470.0 1898.4,469.0C1898.5,468.0 1898.5,467.0 1898.5,466.0C1898.5,465.0 1898.6,464.0 1898.6,463.0C1898.6,462.0 1898.6,461.0 1898.7,460.0C1898.7,459.0 1898.7,458.0 1898.7,457.0C1898.8,456.0 1898.8,455.0 1898.8,454.0C1898.8,453.0 1898.9,452.0 1898.9,451.0C1898.9,450.0 1898.9,449.0 1899.0,448.0C1899.0,447.0 1899.0,446.0 1899.1,445.0C1899.1,444.0 1899.1,443.0 1899.1,442.0C1899.2,441.0 1899.2,440.0 1899.2,439.0C1899.2,438.0 1899.3,437.0 1899.3,436.0C1899.3,435.0 1899.4,434.0 1899.4,433.0C1899.4,432.0 1899.4,431.0 1899.5,430.0C1899.5,429.0 1899.5,428.0 1899.6,427.0C1899.6,426.0 1899.6,425.0 1899.7,424.0C1899.7,423.0 1899.7,422.0 1899.8,421.0C1899.8,420.0 1899.8,419.0 1899.9,418.0C1899.9,417.0 1899.9,416.0 1900.0,415.0C1900.0,414.0 1900.1,413.0 1900.1,412.0C1900.1,411.0 1900.2,410.0 1900.2,409.0C1900.3,408.0 1900.3,407.0 1900.4,406.0C1900.4,405.0 1900.5,404.0 1900.5,403.0C1900.6,402.0 1900.6,401.0 1900.7,400.0C1900.7,399.0 1900.7,398.0 1900.8,397.0C1900.8,396.0 1900.9,395.0 1900.9,394.0C1901.0,393.0 1901.1,392.0 1901.1,391.0C1901.2,390.0 1901.2,389.0 1901.3,388.0C1901.3,387.0 1901.4,386.0 1901.4,385.0C1901.5,384.0 1901.5,383.0 1901.6,382.0C1901.6,381.0 1901.7,380.0 1901.7,379.0C1901.8,378.0 1901.8,377.0 1901.9,376.0C1901.9,375.0 1902.0,374.0 1902.0,373.0C1902.1,372.0 1902.2,371.0 1902.2,370.0C1902.3,369.0 1902.3,368.0 1902.4,367.0C1902.4,366.0 1902.5,365.0 1902.6,364.0C1902.6,363.0 1902.7,362.0 1902.7,361.0C1902.8,360.0 1902.9,359.0 1902.9,358.0C1903.0,357.0 1903.0,356.0 1903.1,355.0C1903.2,354.0 1903.2,353.0 1903.3,352.0C1903.3,351.0 1903.4,350.0 1903.5,349.0C1903.5,348.0 1903.6,347.0 1903.6,346.0C1903.7,345.0 1903.8,344.0 1903.8,343.0C1903.9,342.0 1903.9,341.0 1904.0,340.0C1904.1,339.0 1904.1,338.0 1904.2,337.0C1904.2,336.0 1904.3,335.0 1904.4,334.0C1904.4,333.0 1904.5,332.0 1904.5,331.0C1904.6,330.0 1904.7,329.0 1904.7,328.0C1904.8,327.0 1904.8,326.0 1904.9,325.0C1905.0,324.0 1905.0,323.0 1905.1,322.0C1905.1,321.0 1905.2,320.0 1905.3,319.0C1905.3,318.0 1905.4,317.0 1905.4,316.0C1905.5,315.0 1905.6,314.0 1905.6,313.0C1905.7,312.0 1905.7,311.0 1905.8,310.0C1905.9,309.0 1905.9,308.0 1906.0,307.0C1906.1,306.0 1906.1,305.0 1906.2,304.0C1906.2,303.0 1906.3,302.0 1906.4,301.0C1906.5,300.0 1906.5,299.0 1906.6,298.0C1906.7,297.0 1906.7,296.0 1906.8,295.0C1906.9,294.0 1907.0,293.0 1907.1,292.0C1907.2,291.0 1907.3,290.0 1907.3,289.0C1907.4,288.0 1907.5,287.0 1907.6,286.0C1907.7,285.0 1907.8,284.0 1908.0,283.0C1908.1,282.0 1908.2,281.0 1908.3,280.0C1908.4,279.0 1908.5,278.0 1908.6,277.0C1908.7,276.0 1908.9,275.0 1909.0,274.0C1909.1,273.0 1909.2,272.0 1909.3,271.0C1909.4,270.0 1909.6,269.0 1909.7,268.0C1909.8,267.0 1909.9,266.0 1910.0,265.0C1910.2,264.0 1910.2,263.7 1910.4,262.0C1910.6,260.3 1910.9,258.4 1911.4,255.0C1911.9,251.6 1912.6,245.9 1913.2,241.5C1913.8,237.1 1914.6,232.4 1915.2,228.5C1915.8,224.6 1916.2,221.4 1916.7,218.0C1917.2,214.6 1917.7,211.4 1918.4,208.2C1919.1,204.9 1920.0,201.6 1920.9,198.5C1921.8,195.4 1922.8,192.2 1923.8,189.5C1924.8,186.8 1925.9,184.7 1927.1,182.5C1928.3,180.3 1929.4,178.2 1930.8,176.3C1932.2,174.4 1933.7,172.6 1935.3,170.9C1936.9,169.2 1938.8,167.6 1940.2,166.2C1941.6,164.8 1942.4,163.7 1943.4,162.5C1944.4,161.3 1945.5,160.0 1946.4,159.1C1947.3,158.2 1948.1,157.5 1949.0,156.8C1949.9,156.2 1950.5,155.5 1951.9,155.2C1953.3,154.9 1955.6,154.9 1957.5,154.9C1959.4,154.9 1961.8,155.5 1963.5,155.2C1965.2,154.9 1966.4,153.8 1968.0,153.0C1969.6,152.2 1971.5,151.2 1972.9,150.6C1974.3,150.0 1975.3,149.9 1976.5,149.6C1977.7,149.3 1978.7,149.4 1979.9,149.0C1981.2,148.6 1982.6,147.7 1984.0,147.0C1985.4,146.3 1986.7,145.4 1988.5,145.1C1990.3,144.8 1992.7,145.0 1995.0,145.0C1997.3,145.0 2001.2,145.1 2002.5,145.1" fill="none" stroke="#e80000" stroke-width="3.2" stroke-linejoin="round" stroke-linecap="butt"/>
<text class="b" transform="translate(1136,663.1) scale(0.912,1)" font-size="25.6" text-anchor="end">0.0</text>
<text class="b" transform="translate(1136,561.0) scale(0.912,1)" font-size="25.6" text-anchor="end">0.2</text>
<text class="b" transform="translate(1136,458.9) scale(0.912,1)" font-size="25.6" text-anchor="end">0.4</text>
<text class="b" transform="translate(1136,356.8) scale(0.912,1)" font-size="25.6" text-anchor="end">0.6</text>
<text class="b" transform="translate(1136,254.7) scale(0.912,1)" font-size="25.6" text-anchor="end">0.8</text>
<text class="b" transform="translate(1136,152.6) scale(0.912,1)" font-size="25.6" text-anchor="end">1.0</text>
<text class="b" transform="translate(1136,50.5) scale(0.912,1)" font-size="25.6" text-anchor="end">1.2</text>
<text class="b" transform="translate(1148.5,689.9) scale(0.912,1)" font-size="25.6" text-anchor="middle">3500</text>
<text class="b" transform="translate(1285.9,689.9) scale(0.912,1)" font-size="25.6" text-anchor="middle">3000</text>
<text class="b" transform="translate(1423.3,689.9) scale(0.912,1)" font-size="25.6" text-anchor="middle">2500</text>
<text class="b" transform="translate(1560.7,689.9) scale(0.912,1)" font-size="25.6" text-anchor="middle">2000</text>
<text class="b" transform="translate(1698.1,689.9) scale(0.912,1)" font-size="25.6" text-anchor="middle">1500</text>
<text class="b" transform="translate(1835.5,689.9) scale(0.912,1)" font-size="25.6" text-anchor="middle">1000</text>
<text class="b" transform="translate(1972.9,689.9) scale(0.912,1)" font-size="25.6" text-anchor="middle">500</text>
<text class="ser" x="1409" y="756.3" font-size="39.5">Wavelength (cm<tspan dy="-19.5" dx="-0.6" font-size="28.3">-1</tspan><tspan dy="19.5" dx="-1.6">)</tspan></text>
<text class="ser" transform="translate(1068.8,510.6) rotate(-90)" font-size="40.3">Transmittance (%)</text>
<text x="1171.0" y="86.5" font-size="31.8" style="stroke:#000;stroke-width:0.7">(b)</text>
<text class="b" x="1297.2" y="177" font-size="18.3" text-anchor="middle">2980.17</text>
<text class="b" x="1890.3" y="600.6" font-size="18.3" text-anchor="middle">795.49</text>
</svg></body></html>
